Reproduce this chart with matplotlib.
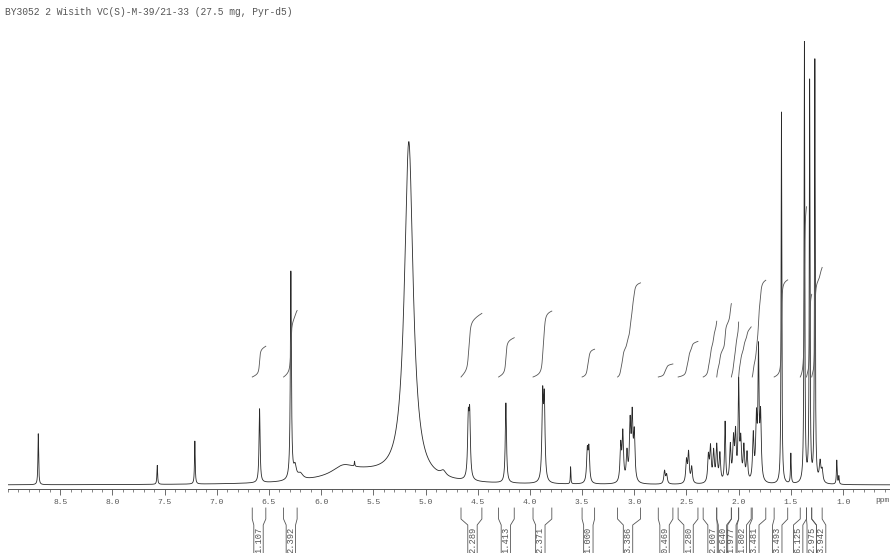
import numpy as np
import matplotlib.pyplot as plt
from matplotlib.ticker import MultipleLocator

title = "BY3052 2 Wisith VC(S)-M-39/21-33 (27.5 mg, Pyr-d5)"

# peak list: shift (ppm), height (px above baseline), width (ppm)
peak_ppm = [8.71, 7.57, 7.21, 6.59, 6.29, 6.25, 6.20, 5.79, 5.60, 5.68, 5.16, 4.83,
            4.59, 4.577, 4.23, 3.878, 3.862, 3.61, 3.45, 3.435,
            3.13, 3.11, 3.07, 3.04, 3.02, 3.00, 2.71, 2.69, 2.50, 2.48, 2.45,
            2.29, 2.27, 2.24, 2.21, 2.18, 2.13, 2.08, 2.05, 2.03, 2.00, 1.98, 1.95, 1.92,
            1.86, 1.83, 1.81, 1.79, 1.59, 1.50, 1.37, 1.32, 1.27, 1.22, 1.20, 1.06, 1.04]
peak_height = [51, 19, 43, 74, 208, 12, 6, 9, 11, 5, 338, 5,
               56, 60, 80, 82, 78, 17, 31, 33,
               36, 48, 28, 56, 62, 46, 13, 9, 22, 30, 16,
               26, 34, 30, 36, 28, 60, 36, 40, 46, 96, 38, 34, 28,
               46, 60, 124, 64, 372, 30, 440, 400, 422, 20, 12, 24, 8]
peak_width = [0.008, 0.008, 0.008, 0.012, 0.012, 0.03, 0.06, 0.25, 0.8, 0.006, 0.10, 0.06,
              0.016, 0.016, 0.014, 0.016, 0.016, 0.006, 0.016, 0.016,
              0.016, 0.016, 0.016, 0.016, 0.016, 0.016, 0.016, 0.016, 0.016, 0.016, 0.016,
              0.016, 0.016, 0.016, 0.016, 0.016, 0.012, 0.016, 0.016, 0.016, 0.012, 0.016, 0.016, 0.016,
              0.016, 0.016, 0.012, 0.016, 0.008, 0.008, 0.008, 0.008, 0.008, 0.018, 0.018, 0.008, 0.008]

# integration regions (start, end ppm), integral values and label positions
int_start = [6.66, 6.36, 4.66, 4.30, 3.97, 3.50, 3.16, 2.77, 2.58, 2.34, 2.21, 2.07,
             2.00, 1.87, 1.66, 1.41, 1.35, 1.30]
int_end = [6.53, 6.23, 4.46, 4.15, 3.79, 3.38, 2.94, 2.63, 2.39, 2.21, 2.07, 2.00,
           1.88, 1.74, 1.53, 1.35, 1.30, 1.20]
int_value = [1.107, 2.392, 2.289, 1.413, 2.371, 1.000, 3.386, 0.469, 1.280, 2.007,
             2.640, 1.977, 1.802, 3.481, 3.493, 6.125, 2.975, 3.942]
label_ppm = [6.60, 6.29, 4.55, 4.23, 3.90, 3.44, 3.06, 2.71, 2.48, 2.25, 2.15, 2.07,
             1.97, 1.85, 1.63, 1.43, 1.30, 1.21]

ppm = np.linspace(9.0, 0.55, 42000)
spec = np.zeros_like(ppm)
for c, h, w in zip(peak_ppm, peak_height, peak_width):
    g = (w / 2) ** 2
    spec += h * g / ((ppm - c) ** 2 + g)

fig = plt.figure(figsize=(8.9, 5.53), dpi=100)
ax = fig.add_axes([8 / 890, 64 / 553, 882 / 890, 489 / 553])
ax.set_xlim(9.0, 0.55)
ax.set_ylim(-4, 485)

ax.plot(ppm, spec, color='#2a2a2a', lw=0.6)

# integral curves
base = 108
px_per_unit = 27.8
for s, e, v in zip(int_start, int_end, int_value):
    m = (ppm <= s) & (ppm >= e)
    cum = np.cumsum(spec[m])
    cum = (cum - cum[0]) / (cum[-1] - cum[0])
    ax.plot(ppm[m], base + cum * v * px_per_unit, color='#555555', lw=0.6)

# integral label brackets below the axis
hw = 0.045
for s, e, v, lx in zip(int_start, int_end, int_value, label_ppm):
    for edge, side in ((s, lx + hw), (e, lx - hw)):
        ax.plot([edge, edge, side, side], [-23, -34, -40, -70],
                color='#555555', lw=0.6, clip_on=False)
    ax.text(lx, -55, f"{v:.3f}", rotation=90, ha='center', va='center',
            family='Liberation Mono', fontsize=6.3, color='#555555', clip_on=False)

for sp in ('top', 'left', 'right'):
    ax.spines[sp].set_visible(False)
ax.spines['bottom'].set_color('#555555')
ax.spines['bottom'].set_linewidth(0.7)
ax.set_yticks([])
ax.xaxis.set_major_locator(MultipleLocator(0.5))
ax.xaxis.set_minor_locator(MultipleLocator(0.1))
ax.set_xticks(np.arange(1.0, 8.51, 0.5))
ax.set_xticklabels([f"{t:.1f}" for t in np.arange(1.0, 8.51, 0.5)])
ax.tick_params(axis='x', which='major', length=4, width=0.6, color='#555555',
               labelsize=5.8, labelcolor='#555555', pad=3)
ax.tick_params(axis='x', which='minor', length=2.5, width=0.5, color='#555555')
for lab in ax.get_xticklabels():
    lab.set_family('Liberation Mono')
ax.text(0.69, -15, 'ppm', ha='left', va='center', family='Liberation Mono',
        fontsize=5.8, color='#555555', clip_on=False)

fig.text(5 / 890, 1 - 12 / 553, title, ha='left', va='center',
         family='Liberation Mono', fontsize=6.9, color='#555555')

fig.savefig('out.png', dpi=100)
